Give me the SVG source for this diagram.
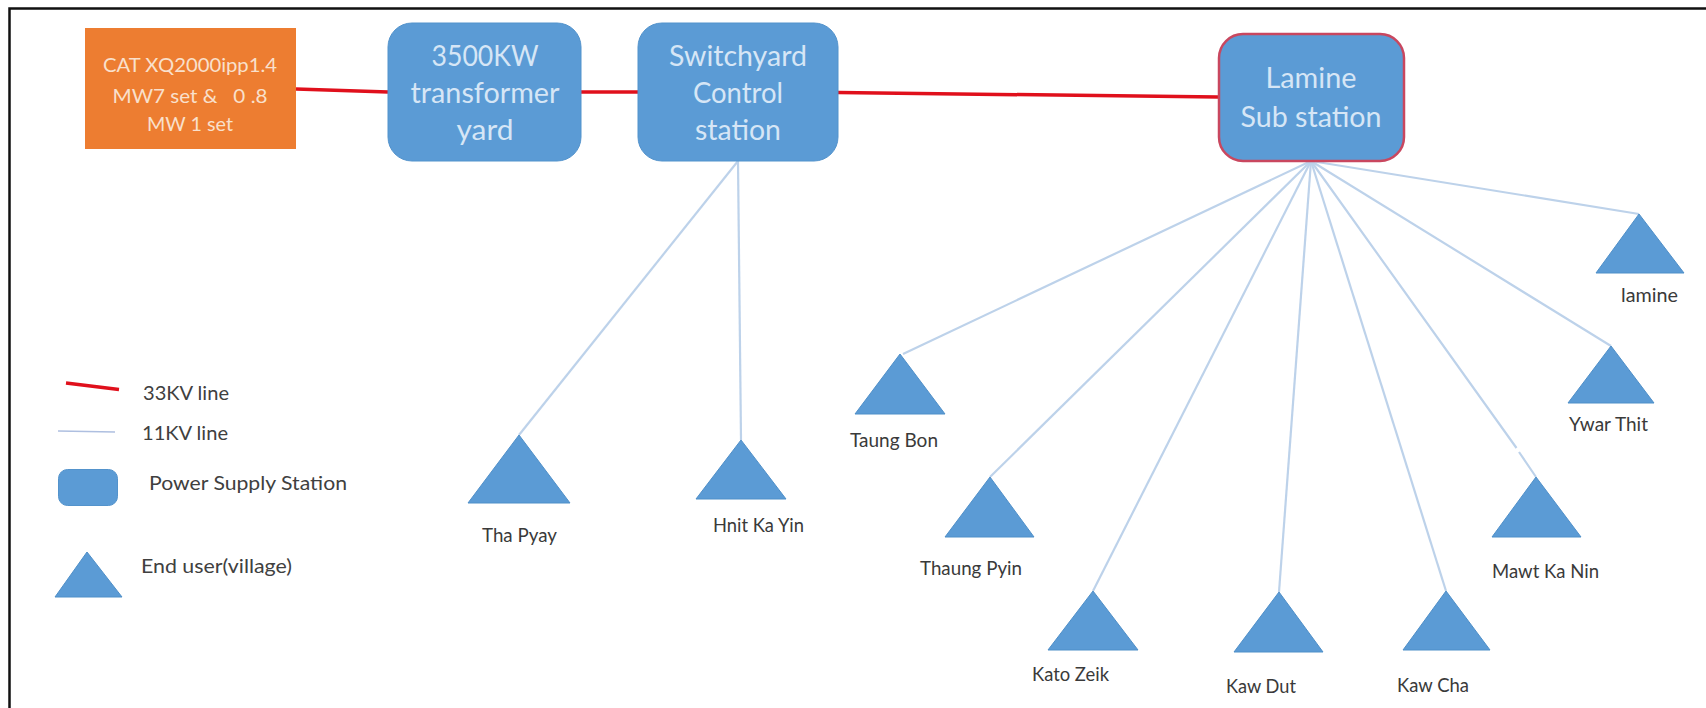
<svg xmlns="http://www.w3.org/2000/svg" width="1706" height="708" viewBox="0 0 1706 708">
<style>
text{font-family:Lato,"Open Sans","Liberation Sans",sans-serif;white-space:pre}
.st{fill:#5B9BD5;stroke:#5393cc;stroke-width:1}
.tr{fill:#5B9BD5;stroke:#4f8fc8;stroke-width:1;stroke-linejoin:miter}
.nt{fill:#d6e6f6;font-size:29px;text-anchor:middle}
.ot{fill:#f9e0cc;font-size:20px;text-anchor:middle}
.lb{fill:#3a3a3a;font-size:18.5px}
.lg{fill:#404040;font-size:20px}
.hv{fill:none;stroke:#e0101c;stroke-width:3.5}
.lv{fill:none;stroke:#bdd2ea;stroke-width:2.2}
</style>
<rect width="1706" height="708" fill="#fff"/>
<path id="frame" d="M1706 8.5H9.5V708" fill="none" stroke="#111" stroke-width="2.5"/>
<g id="connectors">
<path class="hv" d="M296 89L388 92"/>
<path class="hv" d="M581 92H638"/>
<path class="hv" d="M838 92.5L1218 97"/>
<path class="lv" d="M738 161L519 435"/>
<path class="lv" d="M738 161L741 440"/>
<path class="lv" d="M1311 161L903 354"/>
<path class="lv" d="M1311 161L990 477"/>
<path class="lv" d="M1311 161L1093 591"/>
<path class="lv" d="M1311 161L1279 592"/>
<path class="lv" d="M1311 161L1446 591"/>
<path class="lv" d="M1311 161L1516.5 448M1519 452L1536 477"/>
<path class="lv" d="M1311 161L1611 346"/>
<path class="lv" d="M1311 161L1639 214"/>
</g>
<g id="generator">
<rect x="85" y="28" width="211" height="121" fill="#ED7D31"/>
<text class="ot" x="190" y="72" textLength="174" lengthAdjust="spacingAndGlyphs">CAT XQ2000ipp1.4</text>
<text class="ot" x="190" y="103" textLength="155" lengthAdjust="spacingAndGlyphs">MW7 set &amp;   0 .8</text>
<text class="ot" x="190" y="131" textLength="86" lengthAdjust="spacingAndGlyphs">MW 1 set</text>
</g>
<g id="transformer-yard">
<rect class="st" x="388" y="23" width="193" height="138" rx="24"/>
<text class="nt" x="485" y="66" textLength="107" lengthAdjust="spacingAndGlyphs">3500KW</text>
<text class="nt" x="485" y="103" textLength="149" lengthAdjust="spacingAndGlyphs">transformer</text>
<text class="nt" x="485" y="140" textLength="57" lengthAdjust="spacingAndGlyphs">yard</text>
</g>
<g id="switchyard">
<rect class="st" x="638" y="23" width="200" height="138" rx="24"/>
<text class="nt" x="738" y="66" textLength="138" lengthAdjust="spacingAndGlyphs">Switchyard</text>
<text class="nt" x="738" y="103" textLength="90" lengthAdjust="spacingAndGlyphs">Control</text>
<text class="nt" x="738" y="140" textLength="86" lengthAdjust="spacingAndGlyphs">station</text>
</g>
<g id="lamine-sub">
<rect x="1219" y="34" width="185" height="127" rx="24" fill="#5B9BD5" stroke="#c9475f" stroke-width="2.5"/>
<text class="nt" x="1311" y="88" textLength="91" lengthAdjust="spacingAndGlyphs">Lamine</text>
<text class="nt" x="1311" y="127" textLength="141" lengthAdjust="spacingAndGlyphs">Sub station</text>
</g>
<g id="tha-pyay"><polygon class="tr" points="519,435 570,503 468,503"/><text class="lb" x="482" y="542" textLength="75" lengthAdjust="spacingAndGlyphs">Tha Pyay</text></g>
<g id="hnit-ka-yin"><polygon class="tr" points="741,440 786,499 696,499"/><text class="lb" x="713" y="532" textLength="91" lengthAdjust="spacingAndGlyphs">Hnit Ka Yin</text></g>
<g id="taung-bon"><polygon class="tr" points="900,354 945,414 855,414"/><text class="lb" x="850" y="447" textLength="88" lengthAdjust="spacingAndGlyphs">Taung Bon</text></g>
<g id="thaung-pyin"><polygon class="tr" points="990,477 1034,537 945,537"/><text class="lb" x="920" y="575" textLength="102" lengthAdjust="spacingAndGlyphs">Thaung Pyin</text></g>
<g id="kato-zeik"><polygon class="tr" points="1093,591 1138,650 1048,650"/><text class="lb" x="1032" y="681" textLength="77" lengthAdjust="spacingAndGlyphs">Kato Zeik</text></g>
<g id="kaw-dut"><polygon class="tr" points="1279,592 1323,652 1234,652"/><text class="lb" x="1226" y="693" textLength="70" lengthAdjust="spacingAndGlyphs">Kaw Dut</text></g>
<g id="kaw-cha"><polygon class="tr" points="1446,591 1490,650 1403,650"/><text class="lb" x="1397" y="692" textLength="72" lengthAdjust="spacingAndGlyphs">Kaw Cha</text></g>
<g id="mawt-ka-nin"><polygon class="tr" points="1536,477 1581,537 1492,537"/><text class="lb" x="1492" y="578" textLength="107" lengthAdjust="spacingAndGlyphs">Mawt Ka Nin</text></g>
<g id="ywar-thit"><polygon class="tr" points="1611,346 1654,403 1568,403"/><text class="lb" x="1569" y="431" textLength="79" lengthAdjust="spacingAndGlyphs">Ywar Thit</text></g>
<g id="lamine"><polygon class="tr" points="1639,214 1684,273 1596,273"/><text class="lb" x="1621" y="302" textLength="57" lengthAdjust="spacingAndGlyphs">lamine</text></g>
<g id="legend">
<path class="hv" d="M66 383L119 389.5"/>
<text class="lg" x="143" y="400" textLength="86" lengthAdjust="spacingAndGlyphs">33KV line</text>
<path d="M58 431L115 432" fill="none" stroke="#aebfe0" stroke-width="1.5"/>
<text class="lg" x="142" y="440" textLength="86" lengthAdjust="spacingAndGlyphs">11KV line</text>
<rect class="st" x="58.500" y="469.500" width="59" height="36" rx="9"/>
<text class="lg" x="149" y="490" textLength="198" lengthAdjust="spacingAndGlyphs">Power Supply Station</text>
<polygon class="tr" points="87,552 122,597 55,597"/>
<text class="lg" x="141" y="573" textLength="151" lengthAdjust="spacingAndGlyphs">End user(village)</text>
</g>
</svg>
